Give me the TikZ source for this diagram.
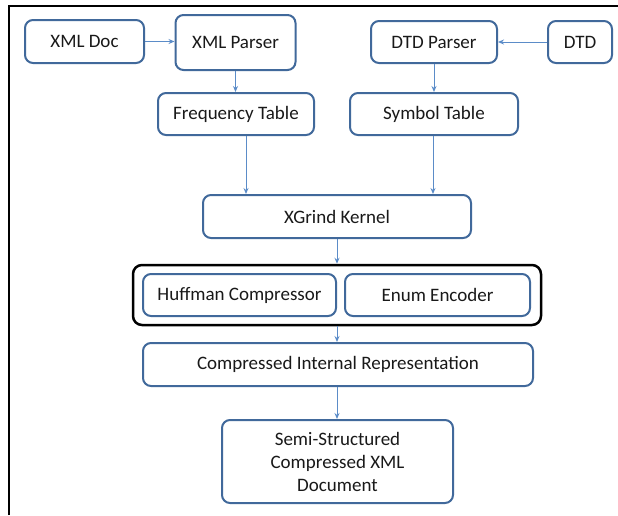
\documentclass[tikz,border=0pt]{standalone}
\usepackage{fontspec}
\setmainfont{Carlito}
\usetikzlibrary{arrows.meta}
\definecolor{boxblue}{HTML}{41699B}
\definecolor{arrblue}{HTML}{5B8CC8}
\begin{document}
\begin{tikzpicture}[x=1pt,y=-1pt,
  box/.style={draw=boxblue, line width=2pt, rounded corners=8pt, fill=white,
    font=\fontsize{19}{23}\selectfont, text=black!90, align=center, inner sep=0pt},
  group/.style={draw=black, line width=2.5pt, rounded corners=9pt, inner sep=0pt},
  arr/.style={draw=arrblue, line width=1pt, -{Stealth[length=6pt,width=5pt]}}]
\useasboundingbox (0,0) rectangle (618,515);
% frame
\draw[line width=2.5pt] (9,515) -- (9,6) -- (618,6);
% nodes
\node[group, minimum width=408, minimum height=60] (outer) at (337,295) {};
\node[box, minimum width=119, minimum height=43] (xmldoc) at (84.5,41.5) {XML Doc};
\node[box, minimum width=120, minimum height=55] (xmlparser) at (235.5,42.5) {XML Parser};
\node[box, minimum width=156, minimum height=42] (freq) at (236,114) {Frequency Table};
\node[box, minimum width=126, minimum height=42] (dtdparser) at (434,42) {DTD Parser};
\node[box, minimum width=64, minimum height=42] (dtd) at (580,42) {DTD};
\node[box, minimum width=168, minimum height=42] (symbol) at (434,114) {Symbol Table};
\node[box, minimum width=268, minimum height=43] (kernel) at (337,216.5) {XGrind Kernel};
\node[box, minimum width=193, minimum height=42] (huff) at (239.5,295) {Huffman Compressor};
\node[box, minimum width=185, minimum height=42] (enum) at (437.5,295) {Enum Encoder};
\node[box, minimum width=390, minimum height=43] (cir) at (338,364.5) {Compressed Internal Representation};
\node[box, minimum width=231, minimum height=83] (semi) at (337.5,461.5) {Semi-Structured\\Compressed XML\\Document};
% connectors
\draw[arr] (xmldoc.east) -- (xmlparser.west |- xmldoc.east);
\draw[arr] (dtd.west) -- (dtdparser.east |- dtd.west);
\draw[arr] (xmlparser.south) -- (freq.north -| xmlparser.south);
\draw[arr] (dtdparser.south) -- (symbol.north -| dtdparser.south);
\draw[arr] ([xshift=10pt]freq.south) -- ([xshift=10pt]freq.south |- kernel.north);
\draw[arr] ([xshift=-1pt]symbol.south) -- ([xshift=-1pt]symbol.south |- kernel.north);
\draw[arr] (kernel.south) -- (outer.north -| kernel.south);
\draw[arr] (outer.south) -- (cir.north -| outer.south);
\draw[arr] (outer.south |- cir.south) -- (semi.north -| outer.south);
\end{tikzpicture}
\end{document}
